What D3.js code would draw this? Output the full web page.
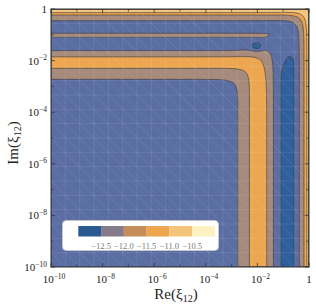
<!DOCTYPE html>
<html><head><meta charset="utf-8">
<script src="https://cdn.jsdelivr.net/npm/d3@7"></script>
<style>body{margin:0;background:#fff} svg{display:block}</style>
</head><body>
<svg id="c" width="316" height="307"></svg>
<script>
// ---- data ----
const levels = [-12.5, -12.0, -11.5, -11.0, -10.5];
const levelLabels = ["\u221212.5","\u221212.0","\u221211.5","\u221211.0","\u221210.5"];
const fillColors = ["#30609c","#5a6ea4","#a68a7b","#eba64f","#f3c57e","#f9ebbb"];
const legendColors = ["#2a5a8f","#857a88","#c68d5b","#eda54e","#f4c47a","#fdf1c1"];
const decadeTicks = [-10,-9,-8,-7,-6,-5,-4,-3,-2,-1,0];
const labelledTicks = [-10,-8,-6,-4,-2,0];
// profiles: [log10|xi|, contour value]
const realAxisProfile = [[-10.5,-12.25],[-3.2,-12.2],[-2.76,-12.0],[-2.31,-11.5],[-1.97,-11.2],[-1.64,-11.5],[-1.38,-12.0],[-1.2,-12.3],[-0.5,-12.3],[-0.375,-12.0],[-0.19,-11.5],[-0.09,-11.0],[0,-10.85],[0.2,-10.3]];
const imagAxisProfile = [[-10.5,-12.25],[-3.2,-12.2],[-2.72,-12.0],[-2.30,-11.5],[-2.07,-11.3],[-1.85,-11.5],[-1.62,-12.0],[-1.35,-12.3],[-0.7,-12.3],[-0.45,-12.0],[-0.23,-11.5],[-0.14,-11.0],[0,-10.75],[0.2,-10.2]];
const dipProfile = [[-1.25,0],[-1.09,-0.2],[-0.83,-0.5],[-0.58,-0.2],[-0.45,0]];
const ridgeProfile = [[-1.25,0],[-1.10,0.3],[-1.02,0.45],[-0.94,0.3],[-0.8,0]];
const blob = {u:-2.03, v:-1.46, depth:-0.6, su:0.15, sv:0.105};

// ---- layout ----
const L = 51, R = 309, T = 9, B = 267;
const svg = d3.select("#c");
const xs = d3.scaleLog().domain([1e-10, 1]).range([L, R]);
const ys = d3.scaleLog().domain([1e-10, 1]).range([B, T]);

function interp(p, s) {
  if (s <= p[0][0]) return p[0][1];
  for (let i = 1; i < p.length; i++) {
    if (s <= p[i][0]) {
      const t = (s - p[i-1][0]) / (p[i][0] - p[i-1][0]);
      return p[i-1][1] + t * (p[i][1] - p[i-1][1]);
    }
  }
  return p[p.length-1][1];
}
function smooth(a, b, x) { let t = (x - a) / (b - a); t = Math.max(0, Math.min(1, t)); return t*t*(3-2*t); }

const n = 320;
const values = new Float64Array(n * n);
for (let j = 0; j < n; j++) {
  const v = -10 + (j + 0.5) * 10 / n;
  for (let i = 0; i < n; i++) {
    const u = -10 + (i + 0.5) * 10 / n;
    const m = Math.max(u, v), mn = Math.min(u, v);
    const s = m + 0.5 * Math.log10(1 + Math.pow(10, 2 * (mn - m)));
    const d = v - u;
    const w = 1 / (1 + Math.exp(-2.5 * d));
    let f = (1 - w) * interp(realAxisProfile, s) + w * interp(imagAxisProfile, s);
    f += smooth(-0.6, -1.6, d) * interp(dipProfile, s);
    f += smooth(0.2, 0.7, d) * interp(ridgeProfile, s);
    const q = Math.pow((u - blob.u) / blob.su, 2) / 2 + Math.pow((v - blob.v) / blob.sv, 2) / 2;
    f += blob.depth * Math.exp(-q);
    values[j * n + i] = f;
  }
}

const proj = d3.geoTransform({ point: function (x, y) {
  this.stream.point(xs(Math.pow(10, -10 + x * 10 / n)), ys(Math.pow(10, -10 + y * 10 / n)));
}});
const path = d3.geoPath(proj);
const contours = d3.contours().size([n, n]);

svg.append("clipPath").attr("id", "clip").append("rect")
  .attr("x", L).attr("y", T).attr("width", R - L).attr("height", B - T);
const plot = svg.append("g").attr("clip-path", "url(#clip)");
plot.append("rect").attr("x", L).attr("y", T).attr("width", R - L).attr("height", B - T)
  .attr("fill", fillColors[0]);
levels.forEach((t, k) => {
  plot.append("path").attr("d", path(contours.contour(values, t)))
    .attr("fill", fillColors[k + 1]);
});
levels.forEach(t => {
  plot.append("path").attr("d", path(contours.contour(values, t)))
    .attr("fill", "none").attr("stroke", "#3a3a3a").attr("stroke-opacity", 0.75).attr("stroke-width", 0.9);
});

// faint mesh
const cells = 18, c = (R - L) / cells;
const mesh = plot.append("g").attr("stroke", "#fff").attr("stroke-opacity", 0.13).attr("stroke-width", 0.7);
for (let k = 1; k < cells; k++) {
  mesh.append("line").attr("x1", L + k*c).attr("x2", L + k*c).attr("y1", T).attr("y2", B);
  mesh.append("line").attr("y1", T + k*c).attr("y2", T + k*c).attr("x1", L).attr("x2", R);
}
for (let k = 1; k < 2 * cells; k++) {
  mesh.append("line").attr("x1", L + k*c).attr("y1", B).attr("x2", L + k*c - (B - T)).attr("y2", T);
}

// frame and ticks
svg.append("rect").attr("x", L).attr("y", T).attr("width", R - L).attr("height", B - T)
  .attr("fill", "none").attr("stroke", "#333").attr("stroke-width", 1);
const tk = svg.append("g").attr("stroke", "#333").attr("stroke-width", 0.8);
decadeTicks.forEach(e => {
  const len = labelledTicks.includes(e) ? 4 : 2.5;
  const x = xs(Math.pow(10, e)), y = ys(Math.pow(10, e));
  tk.append("line").attr("x1", x).attr("x2", x).attr("y1", B).attr("y2", B - len);
  tk.append("line").attr("x1", x).attr("x2", x).attr("y1", T).attr("y2", T + len);
  tk.append("line").attr("y1", y).attr("y2", y).attr("x1", L).attr("x2", L + len);
  tk.append("line").attr("y1", y).attr("y2", y).attr("x1", R).attr("x2", R - len);
});

const font = "'Liberation Serif', 'DejaVu Serif', serif";
function powLabel(sel, e) {
  if (e === 0) { sel.text("1"); return; }
  sel.append("tspan").text("10");
  sel.append("tspan").attr("font-size", 7.5).attr("dy", -4.5).text("\u2212" + (-e));
}
labelledTicks.forEach(e => {
  const tx = svg.append("text").attr("x", xs(Math.pow(10, e)) + (e === 0 ? 0 : 3)).attr("y", 283)
    .attr("text-anchor", "middle").attr("font-family", font).attr("font-size", 11).attr("fill", "#222");
  powLabel(tx, e);
  const ty = svg.append("text").attr("x", 47).attr("y", ys(Math.pow(10, e)) + 4)
    .attr("text-anchor", "end").attr("font-family", font).attr("font-size", 11).attr("fill", "#222");
  powLabel(ty, e);
});

// axis titles
const xt = svg.append("text").attr("x", 176).attr("y", 299).attr("text-anchor", "middle")
  .attr("font-family", font).attr("font-size", 15).attr("fill", "#222");
xt.append("tspan").text("Re(\u03BE");
xt.append("tspan").attr("font-size", 10).attr("dy", 3).text("12");
xt.append("tspan").attr("dy", -3).text(")");
const yt = svg.append("text").attr("transform", "translate(18,143) rotate(-90)").attr("text-anchor", "middle")
  .attr("font-family", font).attr("font-size", 15).attr("fill", "#222");
yt.append("tspan").text("Im(\u03BE");
yt.append("tspan").attr("font-size", 10).attr("dy", 3).text("12");
yt.append("tspan").attr("dy", -3).text(")");

// legend
const lg = svg.append("g");
lg.append("rect").attr("x", 62.5).attr("y", 220.5).attr("width", 156).attr("height", 30).attr("rx", 4)
  .attr("fill", "#fff").attr("stroke", "#ccc").attr("stroke-width", 0.8);
const sw = d3.scaleLinear().domain([0, legendColors.length]).range([78.3, 215]);
legendColors.forEach((col, k) => {
  lg.append("rect").attr("x", sw(k)).attr("y", 226).attr("width", sw(k + 1) - sw(k)).attr("height", 10.5).attr("fill", col);
});
levelLabels.forEach((lab, k) => {
  lg.append("text").attr("x", sw(k + 1)).attr("y", 249).attr("text-anchor", "middle")
    .attr("font-family", font).attr("font-size", 8.5).attr("fill", "#777").text(lab);
});
</script>
</body></html>
